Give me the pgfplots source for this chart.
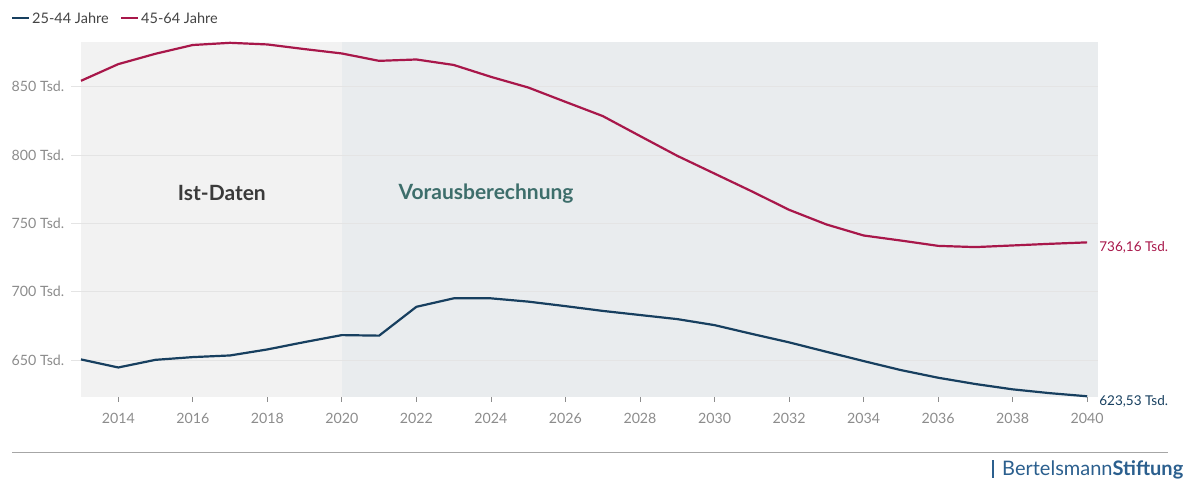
\documentclass[border=0pt]{standalone}
\usepackage{fontspec}
\setmainfont{Lato}
\usepackage{pgfplots}
\pgfplotsset{compat=1.18}
\definecolor{cRed}{HTML}{A8174A}
\definecolor{cBlue}{HTML}{173F5F}
\definecolor{bgL}{HTML}{F2F2F2}
\definecolor{bgR}{HTML}{E9ECEE}
\definecolor{gridc}{HTML}{E4E4E4}
\definecolor{tickc}{HTML}{8C8C8C}
\definecolor{txt}{HTML}{444444}
\definecolor{tealc}{HTML}{3D6E6B}
\definecolor{logoc}{HTML}{2B5F8E}
\newcommand{\lbl}{\fontsize{13.5bp}{16bp}\selectfont}
\newcommand{\tlbl}{\fontsize{14.2bp}{16bp}\selectfont}
\begin{document}
\begin{tikzpicture}
\begin{axis}[
  at={(81bp,84bp)}, anchor=south west,
  scale only axis, width=1017bp, height=355bp,
  xmin=2013, xmax=2040.29, ymin=623, ymax=882.8,
  set layers, clip=false,
  axis line style={draw=none},
  tick align=outside, tick pos=left,
  xtick={2014,2016,2018,2020,2022,2024,2026,2028,2030,2032,2034,2036,2038,2040},
  xticklabels={2014,2016,2018,2020,2022,2024,2026,2028,2030,2032,2034,2036,2038,2040},
  ytick={650,700,750,800,850},
  yticklabels={650 Tsd.,700 Tsd.,750 Tsd.,800 Tsd.,850 Tsd.},
  xtick style={draw=tickc, line width=0.8bp, /pgfplots/major tick length=5bp},
  ytick style={draw=gridc, line width=0.8bp, /pgfplots/major tick length=10bp},
  ymajorgrids, major grid style={draw=gridc, line width=0.8bp},
  xticklabel style={font=\tlbl, text=tickc, yshift=-8bp},
  yticklabel style={font=\tlbl, text=tickc, xshift=-9bp},
]
\addplot[draw=none, fill=bgL, on layer=axis background, forget plot] coordinates {(2013,623) (2013,882.8) (2020,882.8) (2020,623)} -- cycle;
\addplot[draw=none, fill=bgR, on layer=axis background, forget plot] coordinates {(2020,623) (2020,882.8) (2040.29,882.8) (2040.29,623)} -- cycle;
\addplot[cRed, line width=2.2bp, mark=none, line join=round] coordinates {
(2013,854.4) (2014,866.6) (2015,874.2) (2016,880.6) (2017,882.2) (2018,881.0)
(2019,877.6) (2020,874.4) (2021,869.0) (2022,870.0) (2023,866.0) (2024,857.3)
(2025,849.5) (2026,839.0) (2027,828.6) (2028,814.0) (2029,799.5) (2030,786.5)
(2031,773.5) (2032,760.0) (2033,749.3) (2034,741.2) (2035,737.5) (2036,733.6)
(2037,732.7) (2038,733.9) (2039,735.1) (2040,736.16)};
\addplot[cBlue, line width=2.2bp, mark=none, line join=round] coordinates {
(2013,650.5) (2014,644.6) (2015,650.2) (2016,652.2) (2017,653.4) (2018,657.8)
(2019,663.2) (2020,668.3) (2021,667.9) (2022,689.0) (2023,695.2) (2024,695.2)
(2025,692.8) (2026,689.5) (2027,686.0) (2028,683.0) (2029,680.0) (2030,675.6)
(2031,669.2) (2032,663.0) (2033,656.1) (2034,649.3) (2035,642.7) (2036,637.1)
(2037,632.5) (2038,628.6) (2039,625.8) (2040,623.53)};
\node[anchor=west, inner sep=0pt, xshift=12bp, yshift=-5bp, text=cRed, font=\lbl] at (axis cs:2040,736.16) {736,16 Tsd.};
\node[anchor=west, inner sep=0pt, xshift=12bp, yshift=-5bp, text=cBlue, font=\lbl] at (axis cs:2040,623.53) {623,53 Tsd.};
\node[font=\fontsize{21bp}{24bp}\selectfont\bfseries, text=txt!85!black] at (axis cs:2016.78,772) {Ist-Daten};
\node[font=\fontsize{21bp}{24bp}\selectfont\bfseries, text=tealc] at (axis cs:2023.87,772) {Vorausberechnung};
\end{axis}
% legend
\draw[cBlue, line width=2.2bp] (12bp,463bp) -- (29bp,463bp);
\node[anchor=west, inner sep=0pt, text=txt, font=\fontsize{14.5bp}{16bp}\selectfont] at (32bp,462.5bp) {25-44 Jahre};
\draw[cRed, line width=2.2bp] (121bp,463bp) -- (138bp,463bp);
\node[anchor=west, inner sep=0pt, text=txt, font=\fontsize{14.5bp}{16bp}\selectfont] at (141bp,462.5bp) {45-64 Jahre};
% footer
\draw[black!35, line width=0.8bp] (12bp,29bp) -- (1168bp,29bp);
\draw[logoc, line width=1.2bp] (993bp,3bp) -- (993bp,21bp);
\node[anchor=west, inner sep=0pt, text=logoc, font=\fontsize{20bp}{22bp}\selectfont] at (1002bp,11bp) {Bertelsmann\textbf{Stiftung}};
\pgfresetboundingbox
\path[use as bounding box] (0bp,0bp) rectangle (1186bp,481bp);
\end{tikzpicture}
\end{document}
